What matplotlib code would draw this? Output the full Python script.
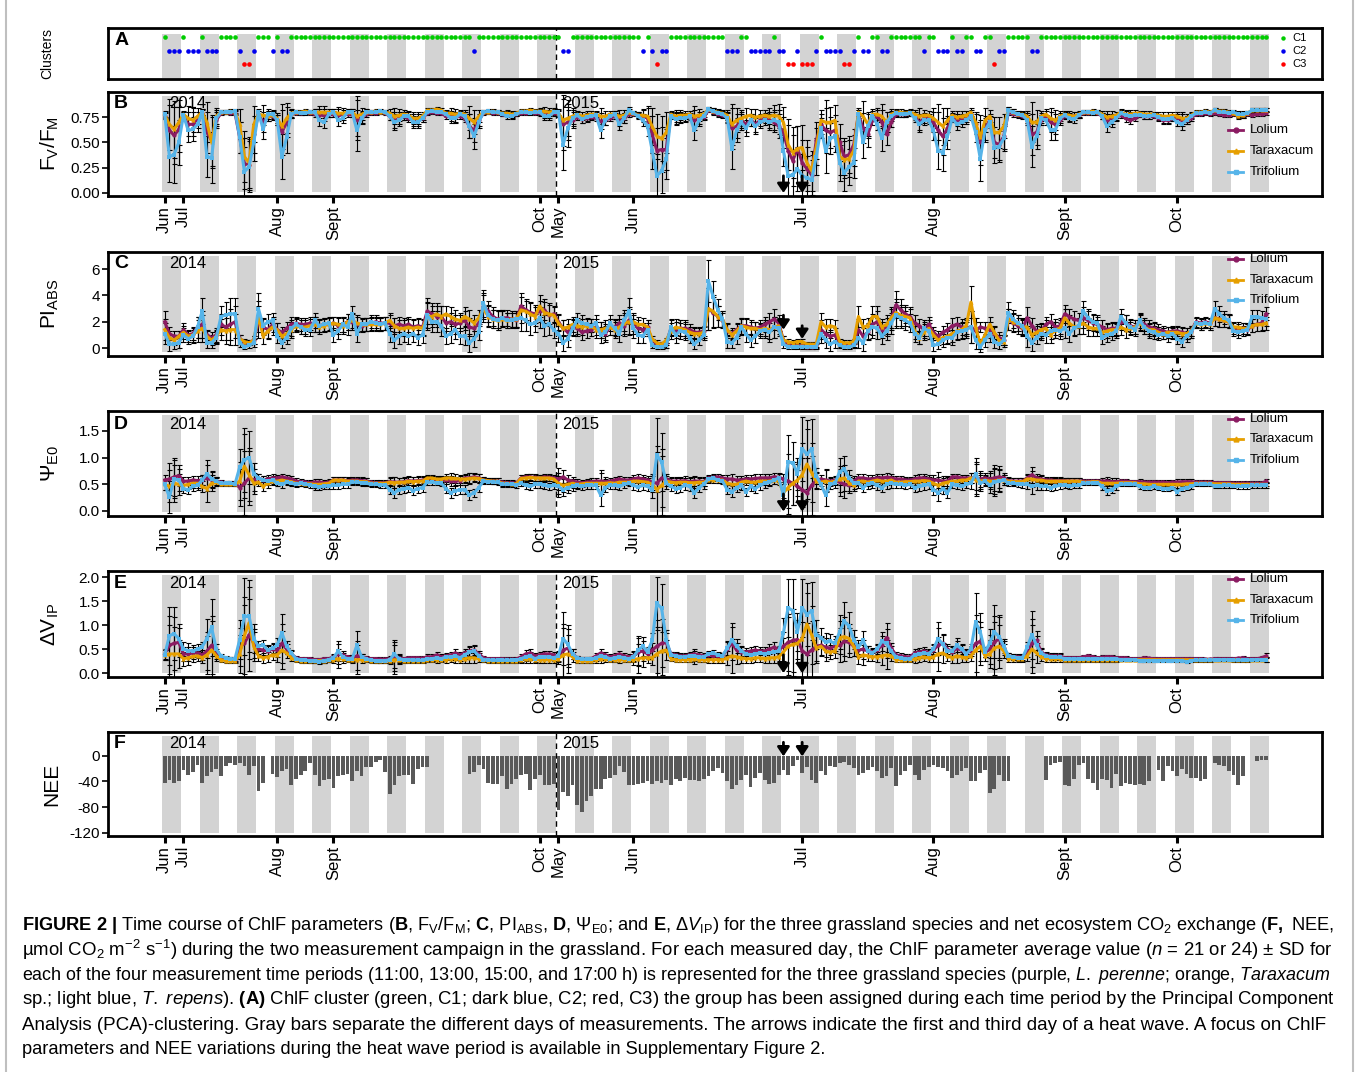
import numpy as np
import matplotlib
matplotlib.use("Agg")
import matplotlib.pyplot as plt
from matplotlib import font_manager
from matplotlib.lines import Line2D

_names = {f.name for f in font_manager.fontManager.ttflist}
BASE = "Liberation Sans" if "Liberation Sans" in _names else "DejaVu Sans"
CAP = "Liberation Sans Narrow" if "Liberation Sans Narrow" in _names else BASE
plt.rcParams["font.family"] = [BASE, "DejaVu Sans"]
plt.rcParams["mathtext.fontset"] = "custom"
plt.rcParams["mathtext.rm"] = CAP
plt.rcParams["mathtext.it"] = CAP + ":italic"
plt.rcParams["mathtext.bf"] = CAP + ":bold"

# ---------------- data (59 measurement days x 4 periods = 236 points) ----------------
species = ["Lolium", "Taraxacum", "Trifolium"]
tick_pos = [0, 4, 24, 36, 80, 84, 100, 136, 164, 192, 216]
tick_lab = ["Jun", "Jul", "Aug", "Sept", "Oct", "May", "Jun", "Jul", "Aug", "Sept", "Oct"]
years = ["2014", "2015"]
year_x = [0.9, 84.8]
heatwave_pts = [132, 136]

cluster = [
 1,2,2,2, 1,2,2,2, 1,2,2,2, 1,1,1,1, 2,3,3,2,
 1,1,1,2, 1,2,2,1, 1,1,1,1, 1,1,1,1, 1,1,1,1,
 1,1,1,1, 1,1,1,1, 1,1,1,1, 1,1,1,1, 1,1,1,1,
 1,1,1,1, 1,1,2,1, 1,1,1,1, 1,1,1,1, 1,1,1,1,
 1,1,1,1, 1,2,2,1, 1,1,1,1, 1,1,1,1, 1,1,1,1,
 1,1,2,1, 2,3,2,2, 1,1,1,1, 1,1,1,1, 1,1,1,1,
 2,2,2,1, 1,2,2,2, 2,2,1,2, 2,3,3,2, 3,3,3,2,
 1,2,2,2, 2,3,3,2, 1,2,2,1, 1,2,2,1, 1,1,1,1,
 1,1,2,1, 1,2,2,2, 1,2,2,1, 1,2,2,1, 1,3,2,2,
 1,1,1,1, 1,2,2,1, 1,1,1,1, 1,1,1,1, 1,1,1,1,
 1,1,1,1, 1,1,1,1, 1,1,1,1, 1,1,1,1, 1,1,1,1,
 1,1,1,1, 1,1,1,1, 1,1,1,1, 1,1,1,1]

# Fv/Fm x100
fvfm_lolium = [
 76,62,57,63, 77,68,68,72, 79,60,52,72, 79,80,79,79, 55,29,28,58,
 78,70,76,76, 72,60,70,78, 79,79,80,79, 78,77,77,78, 78,77,77,78,
 78,72,75,78, 79,79,80,79, 76,72,74,76, 74,72,72,74, 79,80,79,79,
 76,76,75,76, 74,66,62,72, 79,80,79,79, 78,78,77,78, 79,79,80,79,
 79,78,78,79, 78,68,70,72, 75,73,74,75, 74,71,72,74, 76,72,74,78,
 78,77,76,74, 58,42,43,43, 77,74,75,75, 75,72,74,75, 82,80,78,77,
 75,64,66,72, 68,72,68,72, 74,72,70,66, 60,42,32,44, 30,24,18,52,
 68,62,60,62, 50,36,38,48, 78,64,58,72, 76,70,58,70, 78,78,78,79,
 76,70,74,74, 70,62,56,64, 75,72,73,74, 78,68,50,64, 72,50,48,56,
 80,78,77,76, 74,58,60,72, 76,70,68,72, 76,75,76,77, 79,79,80,79,
 76,72,73,75, 77,74,72,74, 77,76,76,76, 74,72,72,74, 74,72,72,74,
 78,78,79,78, 79,78,77,77, 78,77,77,78, 77,78,78,79]
fvfm_taraxacum = [
 77,68,63,70, 78,74,72,76, 80,70,50,76, 80,80,81,80, 68,36,30,68,
 78,77,76,77, 74,66,74,79, 80,80,81,80, 80,80,80,80, 80,79,79,80,
 80,76,78,80, 80,81,80,80, 79,76,77,78, 77,74,74,76, 82,82,83,82,
 79,79,78,79, 78,74,70,76, 80,80,81,80, 79,79,78,79, 81,81,82,81,
 81,81,80,81, 79,72,74,76, 78,76,77,78, 78,76,76,78, 78,76,77,80,
 79,77,77,76, 66,56,54,60, 78,76,77,77, 78,76,77,78, 83,81,80,79,
 77,68,72,74, 76,77,75,76, 77,76,77,76, 70,48,40,44, 45,30,22,46,
 72,70,70,72, 36,33,34,42, 80,76,68,78, 78,76,70,78, 80,80,79,80,
 78,76,77,77, 74,70,66,72, 77,75,76,77, 80,70,55,72, 76,60,60,66,
 82,80,78,78, 76,70,70,76, 78,74,72,76, 78,77,76,78, 80,80,81,80,
 78,75,76,77, 80,78,78,79, 79,78,78,78, 77,76,76,77, 76,74,74,77,
 80,80,81,80, 82,81,81,80, 79,76,77,79, 82,82,82,82]
fvfm_trifolium = [
 78,36,38,50, 77,62,63,68, 80,36,35,74, 80,80,80,81, 55,21,26,50,
 80,63,78,78, 72,36,55,78, 80,79,79,80, 80,72,70,78, 80,72,74,80,
 80,62,74,80, 80,80,81,80, 76,70,72,76, 76,70,70,74, 80,81,80,80,
 78,74,74,78, 76,66,56,70, 80,81,80,80, 78,76,76,78, 80,80,79,80,
 80,76,76,80, 80,48,64,74, 77,73,75,76, 77,62,72,76, 78,68,74,82,
 79,76,72,66, 42,17,22,34, 76,73,74,74, 76,62,72,76, 83,81,79,78,
 74,44,62,70, 64,72,66,70, 72,70,72,70, 42,17,18,24, 17,15,13,36,
 64,42,54,56, 30,20,26,30, 78,50,66,76, 68,54,70,76, 79,78,78,79,
 74,68,72,72, 62,42,40,56, 74,68,70,72, 76,60,34,62, 70,45,46,54,
 82,80,78,77, 72,46,56,74, 72,62,62,74, 77,74,73,77, 80,80,79,80,
 76,66,70,74, 79,77,76,77, 77,76,76,77, 75,73,73,74, 70,68,72,76,
 79,79,80,79, 82,80,80,79, 80,78,78,79, 82,82,82,82]
fvfm_sd = [
 3,25,28,22, 3,12,12,8, 3,20,25,8, 2,2,2,2, 15,25,25,18,
 3,10,5,4, 5,22,15,4, 2,2,2,2, 3,6,6,3, 3,6,5,3,
 3,20,6,3, 2,2,2,2, 4,8,6,4, 4,6,6,4, 2,2,2,2,
 3,5,5,3, 4,12,12,6, 2,2,2,2, 2,3,3,2, 2,2,2,2,
 3,4,4,3, 3,25,18,8, 3,4,4,3, 3,8,5,3, 3,6,5,3,
 2,3,6,10, 18,22,22,20, 3,6,5,4, 3,10,6,3, 2,3,3,3,
 5,20,12,8, 8,6,8,6, 5,8,10,12, 15,25,25,22, 22,22,20,18,
 10,22,15,15, 18,18,18,15, 4,15,12,5, 6,12,10,5, 3,3,3,3,
 4,8,5,4, 10,18,18,12, 4,6,5,4, 4,10,22,12, 6,15,15,12,
 3,3,3,3, 5,20,12,5, 5,10,10,5, 3,4,4,3, 2,2,2,2,
 3,6,5,3, 3,4,4,3, 2,3,3,2, 3,4,4,3, 4,6,4,3,
 2,2,2,2, 2,2,2,2, 2,3,3,2, 2,2,2,2]

# PI_ABS x10
pi_lolium = [
 20,11,9,9, 14,10,11,16, 18,10,8,10, 18,16,18,20, 7,4,4,6,
 20,16,14,18, 14,12,15,18, 19,18,18,19, 18,17,18,18, 19,17,18,20,
 20,18,17,18, 19,20,19,19, 19,17,18,17, 18,16,17,16, 28,26,24,24,
 19,20,18,19, 21,16,15,19, 32,28,24,22, 23,23,22,21, 32,29,27,26,
 28,29,25,26, 20,15,12,16, 15,12,13,14, 16,14,11,16, 16,19,17,21,
 18,15,14,16, 5,3,3,4, 15,14,15,15, 14,12,12,13, 30,27,24,21,
 13,11,14,17, 17,16,15,16, 18,20,22,19, 6,3,2,2, 2,1,1,2,
 14,11,9,10, 3,3,2,3, 14,9,12,18, 20,14,16,22, 33,29,26,24,
 19,17,14,18, 12,9,12,14, 17,18,16,15, 16,13,16,15, 14,11,8,6,
 22,19,17,15, 23,17,13,13, 18,20,16,17, 26,24,22,21, 23,21,19,18,
 16,14,15,15, 20,19,17,16, 20,18,16,15, 14,13,12,13, 13,12,11,13,
 20,19,20,19, 23,22,21,20, 15,14,15,14, 17,18,19,26]
pi_taraxacum = [
 14,8,6,9, 12,9,10,13, 15,9,6,9, 14,13,14,14, 7,5,4,6,
 24,9,13,16, 14,9,11,14, 17,16,16,17, 18,16,17,18, 19,18,17,20,
 21,19,18,18, 18,18,18,19, 21,17,15,15, 16,15,16,15, 24,24,26,24,
 26,24,22,21, 24,22,19,23, 30,24,22,21, 22,21,22,22, 29,28,26,24,
 32,27,26,25, 19,15,16,18, 17,16,17,17, 14,14,15,16, 14,16,19,20,
 20,18,18,16, 7,4,3,6, 13,16,15,14, 12,11,11,12, 30,28,24,22,
 14,10,13,17, 16,15,15,14, 15,14,16,17, 6,5,4,5, 5,3,3,3,
 20,16,17,16, 5,4,4,5, 24,16,17,24, 24,16,18,23, 27,25,24,23,
 13,8,12,15, 10,6,8,9, 11,13,14,17, 35,16,3,10, 18,12,6,5,
 22,20,19,16, 16,10,12,14, 15,10,14,15, 23,19,16,17, 19,16,15,15,
 12,13,14,14, 16,14,15,16, 19,16,14,14, 12,11,12,12, 12,11,11,13,
 19,18,19,18, 23,22,21,20, 16,16,15,15, 17,18,18,19]
pi_trifolium = [
 11,3,3,4, 10,7,9,16, 28,4,4,8, 24,25,26,26, 4,1,2,4,
 30,17,20,21, 9,4,8,15, 18,16,14,14, 21,17,18,19, 10,13,18,16,
 26,11,18,18, 20,19,18,19, 11,6,9,11, 9,11,8,10, 25,20,20,17,
 9,11,14,9, 9,4,7,12, 34,25,22,21, 23,21,21,22, 23,21,18,19,
 23,17,18,14, 11,4,7,15, 21,19,18,17, 19,10,12,19, 15,11,21,28,
 15,10,9,14, 2,1,1,2, 16,10,13,12, 8,3,6,10, 51,39,29,22,
 5,4,8,16, 11,6,9,13, 14,12,16,15, 3,1,1,1, 1,1,1,1,
 11,6,3,5, 2,1,1,2, 8,4,13,16, 15,9,13,19, 25,23,21,19,
 11,8,15,13, 2,3,6,8, 8,12,13,14, 16,6,1,6, 11,5,3,6,
 27,22,19,17, 9,4,8,11, 10,13,14,13, 15,11,15,17, 28,23,20,19,
 8,10,11,13, 24,19,16,14, 21,16,13,12, 10,11,9,11, 7,5,9,12,
 19,18,19,18, 30,26,23,21, 13,12,13,14, 24,24,23,22]
pi_sd = [
 8,5,4,4, 5,4,5,8, 10,4,4,5, 8,10,12,12, 3,2,2,3,
 12,6,6,6, 5,4,5,6, 5,5,5,5, 6,5,5,5, 5,6,6,6,
 6,6,5,5, 5,5,5,5, 6,6,6,6, 6,6,6,6, 10,8,8,8,
 6,7,7,6, 7,7,6,6, 10,8,7,7, 6,6,6,6, 10,8,8,7,
 8,8,8,6, 6,6,6,6, 6,6,5,5, 6,6,6,6, 6,6,8,10,
 7,6,5,5, 2,2,2,2, 6,6,6,6, 4,4,4,4, 16,12,8,6,
 5,4,5,6, 6,5,5,5, 6,7,8,6, 3,2,2,2, 2,2,2,2,
 7,6,5,5, 2,2,2,2, 8,6,6,8, 8,6,7,8, 10,8,7,7,
 6,5,6,6, 4,4,5,5, 6,6,6,6, 12,7,4,5, 6,5,4,4,
 8,7,6,6, 8,6,5,5, 6,6,6,6, 7,6,6,6, 8,7,6,6,
 5,5,5,5, 6,6,5,5, 6,5,5,5, 4,4,4,4, 4,4,4,4,
 4,4,4,4, 6,6,5,5, 4,4,4,4, 5,5,5,5]

# Psi_E0 x100
psi_lolium = [
 58,60,64,66, 56,56,58,57, 58,62,58,56, 54,53,52,52, 44,52,62,58,
 62,58,60,62, 62,64,62,60, 56,55,54,53, 54,54,53,54, 58,58,58,57,
 58,58,57,56, 54,53,53,53, 55,54,54,55, 57,56,57,58, 60,60,59,58,
 58,56,56,57, 62,62,64,62, 58,57,56,56, 54,53,53,52, 62,64,64,63,
 62,64,63,62, 60,64,58,56, 54,53,54,55, 56,56,55,56, 58,60,58,58,
 60,62,60,58, 54,52,62,60, 56,56,56,57, 55,56,56,55, 62,63,64,62,
 60,60,58,58, 60,60,61,62, 62,62,64,63, 60,56,52,46, 40,34,48,58,
 60,58,56,58, 54,50,48,56, 62,62,60,60, 62,62,63,62, 60,60,58,58,
 60,62,62,60, 58,58,56,56, 64,64,62,62, 62,62,60,62, 60,62,64,62,
 57,56,56,56, 62,68,62,60, 58,58,57,57, 57,56,56,56, 56,56,56,56,
 56,56,55,55, 56,56,55,55, 55,54,54,54, 54,54,53,54, 54,55,55,55,
 54,54,54,54, 53,53,53,53, 52,52,52,52, 52,52,52,56]
psi_taraxacum = [
 50,46,52,50, 48,50,52,52, 46,42,52,54, 50,50,50,50, 56,84,68,52,
 54,46,52,56, 56,58,56,55, 52,52,51,51, 50,50,51,52, 58,58,58,56,
 56,56,55,55, 52,52,52,52, 54,53,54,54, 56,55,56,56, 62,62,60,60,
 62,62,61,60, 60,61,62,61, 58,57,56,56, 52,52,51,51, 61,62,63,62,
 62,62,62,60, 52,48,50,52, 50,51,52,52, 52,52,52,53, 52,54,54,54,
 56,56,55,54, 50,40,48,56, 54,53,54,54, 53,53,54,54, 58,58,58,58,
 52,50,50,54, 56,54,54,56, 56,56,58,56, 34,44,52,58, 68,88,72,56,
 54,56,54,56, 60,62,52,48, 56,56,54,56, 58,56,56,58, 54,54,55,55,
 56,56,57,56, 52,48,52,54, 56,56,58,58, 62,58,56,58, 56,56,58,58,
 56,55,55,55, 60,60,58,58, 56,56,56,56, 56,56,56,56, 54,54,55,55,
 52,52,52,52, 53,53,53,53, 51,51,50,50, 50,50,50,50, 50,50,51,51,
 52,52,52,52, 51,51,51,51, 50,50,50,50, 50,50,50,50]
psi_trifolium = [
 50,26,60,58, 42,40,46,48, 58,70,60,56, 52,52,52,51, 82,96,100,70,
 62,58,56,58, 52,50,54,52, 50,52,50,49, 46,45,47,47, 48,48,50,50,
 54,54,53,52, 50,50,49,49, 40,34,40,42, 44,38,42,44, 54,54,53,52,
 42,34,38,40, 40,30,34,44, 56,55,55,54, 50,50,50,49, 52,48,46,50,
 50,48,46,48, 46,40,44,46, 48,46,48,48, 48,30,44,48, 48,46,50,52,
 48,45,48,46, 40,105,92,52, 46,42,44,48, 46,34,44,50, 60,62,58,56,
 40,36,44,48, 36,46,42,48, 52,54,58,62, 30,92,90,70, 117,106,117,66,
 50,30,50,52, 74,78,62,52, 52,44,50,52, 48,44,50,52, 50,50,48,50,
 44,46,48,50, 40,34,42,34, 50,48,46,50, 52,70,52,56, 48,54,56,58,
 52,52,51,50, 50,46,48,47, 46,44,46,48, 48,47,48,48, 52,52,53,53,
 46,38,40,46, 50,50,50,50, 46,44,44,46, 44,42,42,44, 36,42,44,46,
 50,50,50,50, 47,47,48,48, 47,46,46,46, 48,48,48,48]
psi_sd = [
 10,30,35,20, 8,8,8,8, 10,25,15,8, 4,4,4,4, 35,60,50,20,
 8,8,8,8, 6,6,6,6, 5,5,5,5, 6,6,6,6, 6,6,6,6,
 6,6,6,6, 5,5,5,5, 8,10,8,8, 8,8,8,8, 5,5,5,5,
 8,10,8,8, 8,10,8,8, 5,5,5,5, 5,5,5,5, 6,6,6,6,
 6,6,6,6, 20,12,10,8, 6,6,6,6, 6,20,8,6, 6,6,6,6,
 8,8,8,8, 15,70,55,10, 8,8,8,8, 8,10,8,8, 6,6,6,6,
 8,10,8,8, 8,8,8,8, 8,8,8,8, 10,50,40,30, 60,65,55,15,
 8,20,8,8, 25,25,15,10, 8,8,8,8, 8,8,8,8, 6,6,6,6,
 8,8,8,8, 10,15,10,10, 6,6,6,6, 10,30,15,10, 15,25,20,10,
 6,6,6,6, 8,15,8,8, 6,6,6,6, 5,5,5,5, 4,4,4,4,
 6,8,6,6, 4,4,4,4, 5,5,5,5, 5,5,5,5, 6,5,5,5,
 4,4,4,4, 4,4,4,4, 4,4,4,4, 4,4,4,4]

# Delta V_IP x100
dvip_lolium = [
 40,58,62,64, 40,40,42,42, 38,46,58,40, 32,30,30,28, 54,62,80,62,
 50,48,46,50, 48,62,50,40, 32,30,30,30, 28,28,30,30, 34,40,38,34,
 32,36,34,32, 30,30,29,29, 30,34,32,30, 32,32,32,31, 34,34,38,34,
 36,38,42,38, 42,46,48,40, 32,30,30,30, 30,29,29,29, 34,40,42,36,
 38,40,40,38, 34,48,52,40, 32,30,30,30, 36,42,38,34, 36,40,36,34,
 36,44,46,40, 48,56,62,64, 40,38,36,36, 38,40,38,36, 38,36,36,36,
 50,62,48,44, 44,46,48,46, 46,50,54,48, 56,64,68,70, 46,40,48,56,
 58,54,52,56, 58,66,64,56, 48,50,46,44, 48,58,74,52, 38,36,34,34,
 42,44,46,42, 48,58,62,50, 44,52,48,42, 46,62,66,44, 50,64,72,52,
 36,34,34,33, 44,62,68,44, 38,36,36,36, 32,32,32,32, 34,36,34,32,
 33,34,34,32, 32,32,30,30, 30,32,31,30, 30,30,30,30, 30,30,30,30,
 30,30,29,29, 30,30,30,30, 30,31,32,30, 30,30,32,36]
dvip_taraxacum = [
 38,40,40,40, 30,32,35,36, 32,38,48,36, 28,26,25,25, 40,78,105,55,
 36,32,34,38, 38,48,42,32, 27,26,26,26, 26,26,26,27, 28,30,30,28,
 27,28,28,27, 26,26,26,26, 26,28,27,26, 26,26,26,26, 28,28,28,28,
 28,30,30,28, 30,32,32,30, 27,26,26,26, 26,26,26,26, 28,30,30,28,
 28,28,28,28, 30,38,40,34, 26,26,26,26, 28,30,30,28, 28,28,28,28,
 28,30,32,32, 32,40,46,48, 30,28,28,28, 28,30,28,28, 28,28,28,28,
 32,36,34,32, 30,30,32,32, 30,32,32,34, 44,56,60,62, 72,102,80,52,
 56,46,44,46, 74,76,72,56, 34,38,36,34, 34,36,38,36, 28,28,28,28,
 30,32,34,32, 34,40,42,36, 32,36,34,32, 36,48,56,36, 40,52,56,46,
 30,30,30,30, 36,50,42,34, 30,30,30,30, 28,28,28,28, 28,28,28,28,
 28,28,28,28, 28,28,28,28, 28,28,28,28, 28,28,28,28, 28,28,28,28,
 28,28,28,28, 28,28,28,28, 28,28,28,28, 28,28,28,29]
dvip_trifolium = [
 38,78,82,72, 50,47,46,50, 55,72,95,50, 36,32,30,30, 70,118,118,72,
 56,58,48,52, 58,84,56,42, 30,28,27,26, 26,24,26,28, 32,46,34,30,
 30,58,34,30, 27,26,26,26, 28,40,30,28, 28,28,27,27, 30,30,32,30,
 34,34,36,32, 38,44,46,36, 28,28,27,27, 27,27,27,27, 30,34,36,30,
 34,34,34,32, 36,72,60,40, 32,30,29,29, 32,36,34,30, 32,34,32,30,
 34,48,56,44, 68,145,135,70, 38,36,34,34, 36,36,34,34, 40,42,38,36,
 52,70,56,46, 40,38,40,42, 40,42,44,46, 84,136,130,86, 136,122,130,80,
 74,64,66,62, 86,108,98,70, 54,68,46,42, 50,66,62,46, 34,32,30,30,
 38,40,42,40, 50,72,60,46, 46,58,50,40, 50,106,86,44, 62,86,76,56,
 36,34,32,32, 54,80,58,42, 36,34,33,33, 30,30,30,30, 30,30,30,30,
 30,30,30,30, 28,28,28,28, 26,26,26,26, 26,26,26,26, 26,26,24,26,
 27,27,27,27, 28,28,28,28, 27,27,27,27, 28,28,28,28]
dvip_sd = [
 10,60,55,30, 15,15,12,10, 10,40,60,10, 4,4,4,4, 40,80,75,30,
 10,10,10,10, 15,40,10,6, 4,4,4,4, 4,4,4,4, 6,20,8,4,
 6,30,6,4, 4,4,4,4, 6,30,8,4, 4,4,4,4, 5,5,6,5,
 6,6,8,6, 8,10,10,6, 4,4,4,4, 4,4,4,4, 6,8,8,6,
 6,6,6,6, 10,55,40,10, 4,4,4,4, 6,8,6,5, 5,6,5,5,
 10,30,20,10, 15,55,50,20, 5,5,5,5, 5,10,5,5, 6,6,6,6,
 15,35,15,10, 8,8,8,8, 8,10,10,8, 30,60,65,40, 60,65,60,30,
 20,20,15,15, 35,40,30,20, 15,20,10,8, 10,20,30,10, 5,5,5,5,
 8,8,8,8, 10,35,20,10, 10,15,10,8, 10,60,40,10, 30,55,45,15,
 6,6,6,6, 10,50,20,8, 6,6,6,6, 4,4,4,4, 4,4,4,4,
 4,4,4,4, 3,3,3,3, 3,3,3,3, 3,3,3,3, 3,3,3,3,
 3,3,3,3, 3,3,3,3, 3,3,3,3, 3,3,3,5]

# NEE (umol CO2 m-2 s-1), None = missing
nee = [
 -42,-38,-42,-40, -22,-30,-26,-14, -43,-32,-25,-20, -32,-16,-12,-14, -12,-16,-30,-16,
 -55,-42,None,-28, -33,-24,-20,-46, -36,-30,-24,-12, -30,-47,-38,-36, -50,-32,-30,-28,
 -40,-24,-32,-18, -18,-10,-6,-26, -60,-46,-32,-30, -30,-44,-20,-18, -18,None,None,None,
 None,None,None,None, None,-28,-26,-14, -20,-42,-44,-44, -32,-52,-44,-36, -30,-28,-54,-36,
 -30,-46,-46,-44, -84,-56,-62,-46, -76,-88,-70,-62, -52,-52,-36,-34, -30,-16,-26,-46,
 -46,-44,-42,-40, -44,-40,-42,-38, -46,-36,-40,-34, -37,-37,-40,-36, -32,-24,-19,-27,
 -40,-52,-46,-38, -30,-48,-35,-27, -37,-44,-43,-30, -22,-30,-16,-6, -27,-17,-37,-43,
 -24,-30,-16,-17, -11,-9,-14,-19, -30,-27,-22,-17, -24,-35,-32,-19, -47,-30,-24,-14,
 -30,-37,-22,-17, -14,-17,-19,-24, -35,-30,-24,-19, -40,-40,-27,-22, -58,-52,-30,-40,
 -40,None,None,None, None,None,None,None, -37,-14,-12,-10, -45,-47,-36,-14, -12,-36,-43,-53,
 -36,-38,-50,-28, -47,-42,-44,-46, -44,-46,-40,None, -22,-40,-16,-24, -32,-20,-28,-34,
 -34,-40,-36,None, -12,-14,-16,-24, -30,-45,-32,None, None,-8,-6,-6]

# ---------------- helpers ----------------
N = 236
N_DAYS = 59
x = np.arange(N)


def to_arr(lst, scale=1.0):
    a = np.array([np.nan if v is None else v for v in lst], dtype=float) / scale
    assert a.size == N, a.size
    return a


W, H = 1358, 1072
fig = plt.figure(figsize=(W / 100, H / 100), dpi=100)
L_PX, R_PX = 108, 1322
XLIM = (-12.1, 246.9)
COLS = {"Lolium": "#8B1C62", "Taraxacum": "#E69F00", "Trifolium": "#56B4E9"}
MARK = {"Lolium": "o", "Taraxacum": "^", "Trifolium": "s"}
YLAB_X = -0.0387


def make_ax(top, bottom):
    ax = fig.add_axes([L_PX / W, 1 - bottom / H, (R_PX - L_PX) / W, (bottom - top) / H])
    ax.set_xlim(*XLIM)
    for s in ax.spines.values():
        s.set_linewidth(2.0)
    return ax


def bands(ax, y0, y1):
    for d in range(0, N_DAYS, 2):
        ax.axvspan(4 * d - 0.5, 4 * d + 3.5, ymin=y0, ymax=y1,
                   facecolor="#D3D3D3", edgecolor="none", zorder=0)
    ax.axvline(83.5, color="black", lw=1.0, ls=(0, (4, 3)), zorder=1)


def xticks(ax):
    ax.set_xticks(tick_pos)
    ax.set_xticklabels(tick_lab, rotation=90, fontsize=12)
    ax.tick_params(axis="x", length=5, width=2.2, pad=2)
    ax.tick_params(axis="y", length=4, width=1.2, labelsize=11, pad=2)


def letter_year(ax, letter, yf):
    ax.text(0.005, yf, letter, transform=ax.transAxes, fontsize=14,
            fontweight="bold", va="center", ha="left", zorder=6)
    tr = ax.get_xaxis_transform()
    for yr, xx in zip(years, year_x):
        ax.text(xx, yf, yr, transform=tr, fontsize=12, va="center", ha="left", zorder=6)


def arrows(ax, ytail, ytip):
    for xp, yt, yh in zip(heatwave_pts, ytail, ytip):
        ax.annotate("", xy=(xp, yh), xytext=(xp, yt),
                    arrowprops=dict(arrowstyle="-|>,head_length=0.45,head_width=0.3",
                                    color="black", lw=2, mutation_scale=12,
                                    shrinkA=0, shrinkB=0), zorder=7)


def legend(ax, ys):
    for name, yy in zip(species, ys):
        ax.plot([0.9226, 0.935], [yy, yy], transform=ax.transAxes, color=COLS[name],
                lw=2, clip_on=False, zorder=6)
        ax.plot([0.929], [yy], transform=ax.transAxes, marker=MARK[name], color=COLS[name],
                ms=3.5, clip_on=False, zorder=6)
        ax.text(0.9407, yy, name, transform=ax.transAxes, fontsize=9.5, va="center",
                ha="left", zorder=6)


def chl_panel(top, bottom, series, sd, ylim, yt, ytl, ylabel, letter, leg_y, ytail, ytip, letter_y):
    ax = make_ax(top, bottom)
    bands(ax, 0.035, 0.965)
    for vals in series:
        ax.errorbar(x, vals, yerr=sd, fmt="none", ecolor="black", elinewidth=0.8,
                    capsize=1.8, capthick=0.8, zorder=2)
    for name, vals in zip(species, series):
        ax.plot(x, vals, color=COLS[name], lw=2.2, marker=MARK[name], ms=3.0,
                mew=0, zorder=3)
    ax.set_ylim(*ylim)
    ax.set_yticks(yt)
    ax.set_yticklabels(ytl)
    xticks(ax)
    ax.set_ylabel(ylabel, fontsize=15)
    ax.yaxis.set_label_coords(YLAB_X, 0.5)
    letter_year(ax, letter, letter_y)
    legend(ax, leg_y)
    arrows(ax, ytail, ytip)
    return ax


# ---------------- Panel A ----------------
axA = make_ax(28, 79)
bands(axA, 0.02, 0.88)
cl = to_arr(cluster)
for c, col, lab in ((1, "#00CC00", "C1"), (2, "#0000EE", "C2"), (3, "#FF0000", "C3")):
    m = cl == c
    axA.scatter(x[m], np.full(m.sum(), 4 - c), s=11, color=col, lw=0, zorder=3)
for yy, col, lab in ((0.80, "#00CC00", "C1"), (0.55, "#0000EE", "C2"), (0.29, "#FF0000", "C3")):
    axA.plot([0.968], [yy], transform=axA.transAxes, marker="o", ms=3.2, color=col,
             mew=0, clip_on=False)
    axA.text(0.976, yy, lab, transform=axA.transAxes, fontsize=8, va="center", ha="left")
axA.set_ylim(-0.1, 3.67)
axA.set_xticks([])
axA.set_yticks([])
axA.set_ylabel("Clusters", fontsize=10)
axA.yaxis.set_label_coords(-0.044, 0.5)
axA.text(0.005, 0.76, "A", transform=axA.transAxes, fontsize=14, fontweight="bold",
         va="center", ha="left")

# ---------------- Panels B-E ----------------
chl_panel(92, 196, [to_arr(fvfm_lolium, 100), to_arr(fvfm_taraxacum, 100), to_arr(fvfm_trifolium, 100)],
          to_arr(fvfm_sd, 100), (-0.03, 1.0), [0, 0.25, 0.5, 0.75],
          ["0.00", "0.25", "0.50", "0.75"],
          r"F$_{\mathregular{V}}$/F$_{\mathregular{M}}$", "B", (0.63, 0.43, 0.23),
          (0.17, 0.17), (0.0, 0.0), 0.89)
chl_panel(252, 356, [to_arr(pi_lolium, 10), to_arr(pi_taraxacum, 10), to_arr(pi_trifolium, 10)],
          to_arr(pi_sd, 10), (-0.6, 7.3), [0, 2, 4, 6], ["0", "2", "4", "6"],
          r"PI$_{\mathregular{ABS}}$", "C", (0.93, 0.73, 0.54),
          (2.5, 1.7), (1.4, 0.7), 0.885)
chl_panel(411, 516, [to_arr(psi_lolium, 100), to_arr(psi_taraxacum, 100), to_arr(psi_trifolium, 100)],
          to_arr(psi_sd, 100), (-0.094, 1.875), [0, 0.5, 1.0, 1.5],
          ["0.0", "0.5", "1.0", "1.5"],
          r"Ψ$_{\mathregular{E0}}$", "D", (0.92, 0.73, 0.53),
          (0.32, 0.32), (-0.01, -0.01), 0.87)
chl_panel(571, 677, [to_arr(dvip_lolium, 100), to_arr(dvip_taraxacum, 100), to_arr(dvip_trifolium, 100)],
          to_arr(dvip_sd, 100), (-0.08, 2.125), [0, 0.5, 1.0, 1.5, 2.0],
          ["0.0", "0.5", "1.0", "1.5", "2.0"],
          r"ΔV$_{\mathregular{IP}}$", "E", (0.92, 0.73, 0.54),
          (0.38, 0.38), (0.0, 0.0), 0.88)

# ---------------- Panel F ----------------
axF = make_ax(732, 836)
bands(axF, 0.026, 0.958)
nee_a = to_arr(nee)
m = ~np.isnan(nee_a)
axF.bar(x[m], nee_a[m], width=0.8, color="#595959", zorder=2)
axF.set_ylim(-125, 37)
axF.set_yticks([0, -40, -80, -120])
axF.set_yticklabels(["0", "-40", "-80", "-120"])
xticks(axF)
axF.set_ylabel("NEE", fontsize=15)
axF.yaxis.set_label_coords(YLAB_X, 0.5)
letter_year(axF, "F", 0.886)
arrows(axF, (21, 21), (-1, -1))

# ---------------- caption ----------------
cap_lines = [
    r"$\mathbf{FIGURE\ 2\ |}$ Time course of ChlF parameters ($\mathbf{B}$, F$_{\mathregular{V}}$/F$_{\mathregular{M}}$; "
    r"$\mathbf{C}$, PI$_{\mathregular{ABS}}$, $\mathbf{D}$, Ψ$_{\mathregular{E0}}$; and $\mathbf{E}$, Δ$\mathit{V}_{\mathregular{IP}}$) "
    r"for the three grassland species and net ecosystem CO$_{\mathregular{2}}$ exchange ($\mathbf{F,}$ NEE,",
    r"µmol CO$_{\mathregular{2}}$ m$^{\mathregular{−2}}$ s$^{\mathregular{−1}}$) during the two measurement campaign in the grassland. "
    r"For each measured day, the ChlF parameter average value ($\mathit{n}$ = 21 or 24) ± SD for",
    r"each of the four measurement time periods (11:00, 13:00, 15:00, and 17:00 h) is represented for the three grassland species "
    r"(purple, $\mathit{L.\ perenne}$; orange, $\mathit{Taraxacum}$",
    r"sp.; light blue, $\mathit{T.\ repens}$). $\mathbf{(A)}$ ChlF cluster (green, C1; dark blue, C2; red, C3) the group has been "
    r"assigned during each time period by the Principal Component",
    "Analysis (PCA)-clustering. Gray bars separate the different days of measurements. The arrows indicate the first and "
    "third day of a heat wave. A focus on ChlF",
    "parameters and NEE variations during the heat wave period is available in Supplementary Figure 2.",
]
cap_y = [925, 950, 975, 1000, 1025, 1050]
texts = [fig.text(22 / W, 1 - yy / H, s, fontsize=12, family=[CAP, "DejaVu Sans"],
                  va="center", ha="left") for s, yy in zip(cap_lines, cap_y)]
renderer = fig.canvas.get_renderer()
widths = [t.get_window_extent(renderer).width for t in texts]
# justified lines: fit each full line to the caption width; last line uses the first line's size
sizes = [12 * 1310 / w for w in widths[:5]]
for t, s in zip(texts[:5], sizes):
    t.set_fontsize(s)
texts[5].set_fontsize(sizes[0])

fig.add_artist(Line2D([6 / W, 6 / W], [0, 1], color="#BFBFBF", lw=1.5))
fig.add_artist(Line2D([1353 / W, 1353 / W], [0, 1], color="#BFBFBF", lw=1.5))

fig.savefig("out.png", dpi=100)
